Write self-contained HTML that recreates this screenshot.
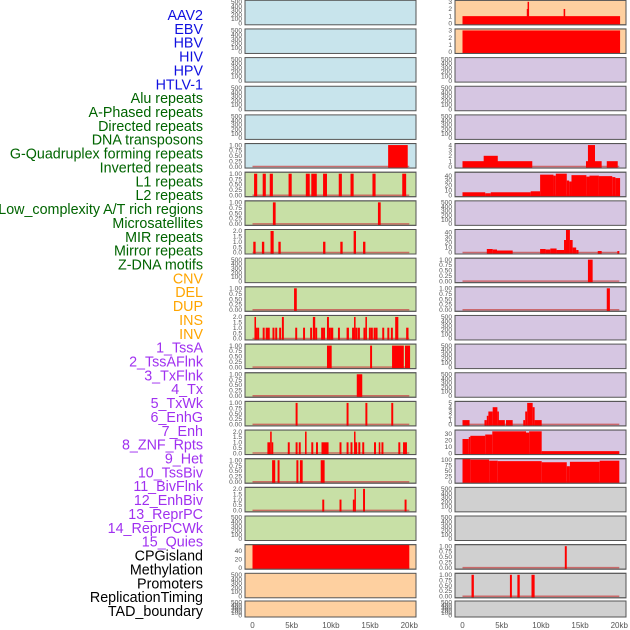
<!DOCTYPE html>
<html><head><meta charset="utf-8"><style>
html,body{margin:0;padding:0;background:#fff;width:630px;height:630px;overflow:hidden}
svg{display:block}
text{font-family:"Liberation Sans",sans-serif}
</style></head><body>
<svg id="chart" width="630" height="630" viewBox="0 0 630 630" xmlns="http://www.w3.org/2000/svg"></svg>
<script>
// ---- labels ----
const labelNames = ["AAV2","EBV","HBV","HIV","HPV","HTLV-1","Alu repeats","A-Phased repeats","Directed repeats","DNA transposons","G-Quadruplex forming repeats","Inverted repeats","L1 repeats","L2 repeats","Low_complexity A/T rich regions","Microsatellites","MIR repeats","Mirror repeats","Z-DNA motifs","CNV","DEL","DUP","INS","INV","1_TssA","2_TssAFlnk","3_TxFlnk","4_Tx","5_TxWk","6_EnhG","7_Enh","8_ZNF_Rpts","9_Het","10_TssBiv","11_BivFlnk","12_EnhBiv","13_ReprPC","14_ReprPCWk","15_Quies","CPGisland","Methylation","Promoters","ReplicationTiming","TAD_boundary"];
const labelGroups = [0,0,0,0,0,0,1,1,1,1,1,1,1,1,1,1,1,1,1,2,2,2,2,2,3,3,3,3,3,3,3,3,3,3,3,3,3,3,3,4,4,4,4,4];
const groupColors = ["#1010e0","#006400","#ffa500","#a030f0","#000000"];
// ---- axis ticks ----
const xTickValues = [0,5,10,15,20];
const xTickLabels = ["0","5kb","10kb","15kb","20kb"];
const ticks500 = [0,100,200,300,400,500];
const ticks1 = [0,0.25,0.5,0.75,1];
const ticks2 = [0,0.5,1,1.5,2];
const ticks3 = [0,1,2,3];
const ticks4 = [0,1,2,3,4];
const ticks5 = [0,1,2,3,4,5];
const ticks40 = [0,10,20,30,40];
const ticks30 = [0,10,20,30];
const ticks100 = [0,25,50,75,100];
const ticks40b = [0,20,40];
// ---- left column tracks [startKb, endKb, value] ----
const L5 = [[17.3,19.8,1]];
const L6 = [[0.2,0.6,1],[1.3,1.7,1],[2.2,2.6,1],[4.6,5.0,1],[6.8,7.3,1],[7.5,8.2,1],[9.0,9.5,1],[11.0,11.4,1],[12.5,12.9,1],[15.3,15.7,1],[19.1,19.6,1]];
const L7 = [[2.6,2.95,1],[16.0,16.35,1]];
const L8 = [[0.1,0.4,1],[1.2,1.5,1],[2.3,2.7,2],[3.3,3.6,1],[9.0,9.3,1],[11.2,11.5,1],[12.9,13.2,2],[14.1,14.4,1]];
const L10 = [[5.3,5.65,1]];
const L11 = [[0.25,0.45,2],[0.45,0.65,1],[0.65,0.85,1],[1.3,1.55,1],[1.68,2.2,1],[2.55,2.8,1],[2.9,3.15,1],[3.4,3.65,1],[3.75,4.0,2],[5.45,5.7,1],[6.45,6.7,1],[7.35,7.6,1],[7.7,8.0,2],[8.0,8.25,1],[8.75,9.0,1],[9.0,9.25,1],[9.5,9.75,2],[9.75,10.0,1],[10.0,10.3,1],[10.9,11.15,1],[12.0,12.3,1],[12.7,12.95,1],[12.95,13.15,2],[13.15,13.4,1],[13.45,13.7,1],[14.15,14.4,1],[14.4,14.6,2],[14.85,15.1,1],[15.1,15.35,1],[15.45,15.7,1],[15.7,15.95,1],[16.55,16.8,1],[17.2,17.45,1],[17.65,17.9,1],[18.2,18.6,2],[19.6,19.9,1]];
const L12 = [[9.5,10.1,1],[15.0,15.25,1],[17.8,19.3,1],[19.45,20.1,1]];
const L13 = [[13.3,14.0,1]];
const L14 = [[5.5,5.75,1],[12.0,12.25,1],[14.4,14.65,1],[17.7,17.95,1]];
const L15 = [[1.9,2.25,1],[2.25,2.45,2],[2.45,2.65,1],[4.5,4.75,1],[5.5,5.75,1],[5.9,6.15,1],[6.7,6.9,2],[7.5,7.75,1],[8.1,8.35,1],[8.8,9.7,1],[11.1,11.35,1],[12.0,12.25,1],[12.5,12.75,1],[12.95,13.1,2],[13.1,13.35,1],[13.5,13.75,1],[14.0,14.25,1],[15.5,15.75,1],[16.1,16.3,1],[16.45,16.7,1],[18.6,18.85,1],[19.2,19.7,1]];
const L16 = [[2.5,2.9,1],[3.2,3.45,1],[5.6,5.85,1],[6.05,6.4,1],[8.7,9.2,1]];
const L17 = [[8.9,9.15,1],[11.1,11.35,1],[12.8,13.0,1],[13.0,13.15,2],[14.1,14.35,2],[19.4,19.65,1]];
const L19 = [[0,20.0,55]];
// ---- right column tracks ----
const R0 = [[0,20.1,1],[8.2,8.3,2],[8.3,8.45,3],[12.9,13.1,2]];
const R1 = [[0,20.1,3]];
const R5 = [[0,8.9,1],[2.7,4.5,2],[15.75,17.75,1],[16.0,16.9,4],[18.4,19.8,1]];
const R6 = [[0,2.9,6],[2.9,3.6,4],[3.6,8.7,6],[8.7,9.9,8],[9.9,11.6,42],[11.6,11.9,40],[11.9,13.3,44],[13.3,13.6,30],[13.6,13.9,28],[13.9,15.8,41],[15.8,16.2,38],[16.2,17.4,40],[17.4,19.1,39],[19.1,19.5,37],[19.5,20.1,35]];
const R8 = [[3.1,3.85,7],[3.85,4.4,6],[4.4,6.4,4],[9.9,10.6,7],[10.6,11.2,6],[11.2,12.0,8],[12.0,12.95,5],[12.95,13.2,25],[13.2,13.7,45],[13.7,14.05,25],[14.05,14.5,10],[14.5,14.8,5],[17.25,17.75,3],[19.75,20.0,3]];
const R9 = [[16.0,16.6,1]];
const R10 = [[18.4,18.8,1]];
const R14 = [[0,0.9,1],[2.8,3.1,1],[3.1,3.3,2],[3.3,3.85,3],[3.85,4.45,4],[4.45,4.6,3],[4.6,5.4,1],[5.55,6.4,1],[7.75,8.0,1],[8.0,8.25,3],[8.25,8.95,5],[8.95,9.2,4],[9.2,10.1,1]];
const R15 = [[0,0.8,22],[0.8,1.0,25],[1.0,2.9,27],[2.9,3.8,29],[3.8,8.1,34],[8.1,8.5,32],[8.5,10.1,34],[10.1,20.0,3]];
const R16 = [[0,1.0,103],[1.0,3.4,100],[3.4,4.5,95],[4.5,10.1,93],[10.1,13.3,88],[13.3,13.7,70],[13.7,17.5,90],[17.5,20.0,95]];
const R19 = [[13.05,13.3,1]];
const R20 = [[1.15,1.45,1],[6.05,6.3,1],[7.0,7.3,1],[8.8,9.2,1]];

const BLUE="#c8e4ec",GREEN="#c8e0a6",ORANGE="#fed0a0",PURPLE="#d6c6e2",GREY="#d0d0d0";
const leftTracks = [
 [BLUE,null,ticks500],[BLUE,null,ticks500],[BLUE,null,ticks500],[BLUE,null,ticks500],[BLUE,null,ticks500],
 [BLUE,L5,ticks1],[GREEN,L6,ticks1],[GREEN,L7,ticks1],[GREEN,L8,ticks2],[GREEN,null,ticks500],
 [GREEN,L10,ticks1],[GREEN,L11,ticks2],[GREEN,L12,ticks1],[GREEN,L13,ticks1],[GREEN,L14,ticks1],
 [GREEN,L15,ticks2],[GREEN,L16,ticks1],[GREEN,L17,ticks2],[GREEN,null,ticks500],[ORANGE,L19,ticks40b],
 [ORANGE,null,ticks500],[ORANGE,null,ticks500]];
const rightTracks = [
 [ORANGE,R0,ticks3],[ORANGE,R1,ticks3],[PURPLE,null,ticks500],[PURPLE,null,ticks500],[PURPLE,null,ticks500],
 [PURPLE,R5,ticks4],[PURPLE,R6,ticks40],[PURPLE,null,ticks500],[PURPLE,R8,ticks40],[PURPLE,R9,ticks1],
 [PURPLE,R10,ticks1],[PURPLE,null,ticks500],[PURPLE,null,ticks500],[PURPLE,null,ticks500],[PURPLE,R14,ticks5],
 [PURPLE,R15,ticks30],[PURPLE,R16,ticks100],[GREY,null,ticks500],[GREY,null,ticks500],[GREY,R19,ticks1],
 [GREY,R20,ticks1],[GREY,null,ticks500]];
const yMaxOverride = {"L19":55,"R6":47,"R8":46,"R15":36,"R16":104};

const NS="http://www.w3.org/2000/svg";
const svg=document.getElementById('chart');
function mk(tag,attrs,parent){const e=document.createElementNS(NS,tag);for(const k in attrs)e.setAttribute(k,attrs[k]);(parent||svg).appendChild(e);return e;}

labelNames.forEach((nm,i)=>{
  const t=mk('text',{x:203,y:15+13.86*i+5,'text-anchor':'end','font-size':14.3,fill:groupColors[labelGroups[i]]});
  t.textContent=nm;
  
  
});

function rowTop(i){return i===21?601:0.3+28.65*i;}
function rowH(i){return i===21?16:24.5;}
function fmt(v,ticks){const mx=ticks[ticks.length-1];if(mx===1)return v.toFixed(2);if(mx===2)return v.toFixed(1);return String(v);}

function drawColumn(tracks,px0,px1,x0,side){
  const xs=kb=>x0+kb*(156.8/20);
  tracks.forEach((tr,i)=>{
    const [bg,data,ticks]=tr;
    const top=rowTop(i),h=rowH(i),bot=top+h;
    const g=mk('g',{});
    
    
    mk('rect',{x:px0,y:top,width:px1-px0,height:h,fill:bg,stroke:'#555',"stroke-width":1},g);
    const tmax=ticks[ticks.length-1];
    const key=side==='left'?'L'+i:'R'+i;
    const ymax=yMaxOverride[key]||tmax;
    const yb=bot-1.5, ytop=(ymax===tmax)?top+1.5:top;
    const ys=v=>yb-(v/ymax)*(yb-ytop);
    ticks.forEach(v=>{
      const t=mk('text',{x:px0-3,y:ys(v)+2.2,'text-anchor':'end','font-size':6.6,fill:'#555'},g);
      t.textContent=fmt(v,ticks);
      
      
    });
    if(data){
      const bl=mk('line',{x1:xs(0),x2:xs(20),y1:yb,y2:yb,stroke:'#c85050','stroke-width':1.5,'stroke-opacity':0.8},g);
      
      
      data.forEach(d=>{
        const y=Math.max(top,ys(d[2]));
        const r=mk('rect',{x:xs(d[0]),y:y,width:Math.max(1.5,xs(d[1])-xs(d[0])),height:bot-y,fill:'#ff0000'},g);
        
        
      });
      mk('rect',{x:px0,y:top,width:px1-px0,height:h,fill:'none',stroke:'#555',"stroke-width":1},g);
    }
  });
  xTickValues.forEach((v,j)=>{
    const t=mk('text',{x:xs(v),y:628,'text-anchor':'middle','font-size':8,fill:'#555'});
    t.textContent=xTickLabels[j];
    
    
  });
}
drawColumn(leftTracks,245,416,252.5,'left');
drawColumn(rightTracks,455,626,462.5,'right');
</script>
</body></html>
